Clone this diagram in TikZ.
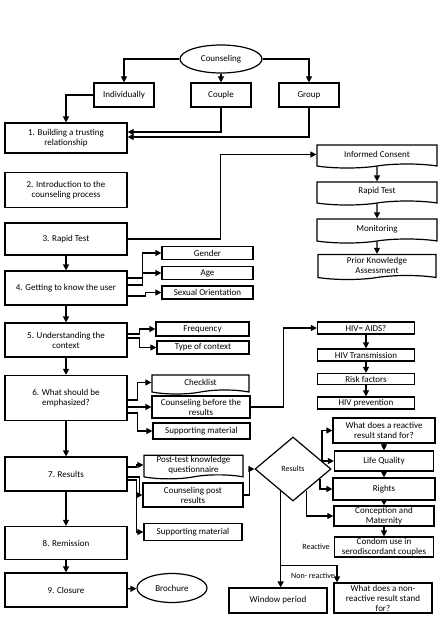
\documentclass[tikz,border=0pt]{standalone}
\usepackage{fontspec}
\setmainfont{Carlito}
\usetikzlibrary{arrows.meta, shapes.geometric, shapes.symbols, calc}

\begin{document}
\begin{tikzpicture}[x=1pt, y=-1pt,
      font=\fontsize{9}{10}\selectfont,
      box/.style={draw, line width=1.2pt, align=center, inner xsep=2pt,
                  inner ysep=1pt, minimum width=#1},
      stepbox/.style={box=122pt, minimum height=34pt},
      docbox/.style={box=#1, tape, tape bend top=none, tape bend height=4pt},
      oval/.style={draw, line width=1.2pt, ellipse, inner sep=0pt},
      lbl/.style={font=\fontsize{8}{9}\selectfont, inner sep=0pt},
      arr/.style={-{Triangle[length=6pt,width=6pt]}, line width=1.2pt}
  ]
    \useasboundingbox (0,0) rectangle (444,623);

    \node[oval, minimum width=82pt, minimum height=28pt] (couns) at (221,59) {Counseling};
    \node[box=60pt, minimum height=24pt] (indiv)  at (124,95) {Individually};
    \node[box=60pt, minimum height=24pt] (couple) at (221,95) {Couple};
    \node[box=60pt, minimum height=24pt] (group)  at (309,95) {Group};

    \node[stepbox, minimum height=30pt] (s1) at (66,138) {1. Building a trusting\\relationship};
    \node[stepbox, minimum height=35pt] (s2) at (66,190) {2. Introduction to the\\counseling process};
    \node[stepbox, minimum height=32pt] (s3) at (66,239) {3. Rapid Test};
    \node[stepbox] (s4) at (66,288) {4. Getting to know the user};
    \node[stepbox] (s5) at (66,340) {5. Understanding the\\context};
    \node[stepbox, minimum height=45pt] (s6) at (66,398) {6. What should be\\emphasized?};
    \node[stepbox] (s7) at (66,474) {7. Results};
    \node[stepbox, minimum height=33pt] (s8) at (66,543) {8. Remission};
    \node[stepbox] (s9) at (66,590) {9. Closure};

    \node[box=91pt, minimum height=13pt] (gender) at (207.5,253) {Gender};
    \node[box=91pt, minimum height=13pt] (age)    at (207.5,273) {Age};
    \node[box=91pt, minimum height=13pt] (sexor)  at (207.5,292.5) {Sexual Orientation};
    \node[box=93pt, minimum height=14pt] (freq)   at (202.5,329) {Frequency};
    \node[box=92pt, minimum height=13pt] (ctx)    at (203,347.5) {Type of context};
    \node[docbox=97pt, minimum height=19pt] (check) at (200.5,382.5) {Checklist};
    \node[box=98pt, minimum height=22pt] (cbr)    at (201,407) {Counseling before the\\results};
    \node[box=97pt, minimum height=16pt] (supa)   at (201.5,431) {Supporting material};
    \node[docbox=99pt, minimum height=22pt] (post) at (193.5,465) {Post-test knowledge\\questionnaire};
    \node[box=100pt, minimum height=24pt] (cpr)   at (193,495) {Counseling post\\results};
    \node[box=98pt, minimum height=17pt] (supb)   at (193,532) {Supporting material};
    \node[oval, minimum width=70pt, minimum height=29pt] (broch) at (172,588) {Brochure};

    \node[docbox=120pt, minimum height=23pt] (ic)  at (377,154.5) {Informed Consent};
    \node[docbox=120pt, minimum height=23pt] (rt)  at (377,191.5) {Rapid Test};
    \node[docbox=120pt, minimum height=24pt] (mon) at (377,229) {Monitoring};
    \node[docbox=118pt, minimum height=25pt] (pk)  at (377,265) {Prior Knowledge\\Assessment};

    \node[box=97pt, minimum height=12pt] (aids)  at (366,328) {HIV= AIDS?};
    \node[box=97pt, minimum height=12pt] (trans) at (366,355) {HIV Transmission};
    \node[box=97pt, minimum height=11pt] (risk)  at (366,379) {Risk factors};
    \node[box=97pt, minimum height=12pt] (prev)  at (366,403) {HIV prevention};

    \node[draw, line width=1.2pt, diamond, minimum width=76pt, minimum height=64pt,
          inner sep=0pt, font=\fontsize{8}{9}\selectfont] (res) at (293,469) {Results};
    \node[box=102pt, minimum height=25pt] (rq)    at (384,430.5) {What does a reactive\\result stand for?};
    \node[box=99pt, minimum height=20pt]  (lq)    at (384,461) {Life Quality};
    \node[box=102pt, minimum height=22pt] (rts)   at (384,489) {Rights};
    \node[box=100pt, minimum height=20pt] (conc)  at (384,516) {Conception and\\Maternity};
    \node[box=99pt, minimum height=20pt]  (cond)  at (384,547) {Condom use in\\serodiscordant couples};
    \node[box=98pt, minimum height=25pt]  (win)   at (278,600.5) {Window period};
    \node[box=98pt, minimum height=30pt]  (nrq)   at (383,598) {What does a non-\\reactive result stand\\for?};
    \node[lbl] (lreac) at (316,547) {Reactive};
    \node[lbl] (lnon)  at (313,576) {Non- reactive};

    \draw[arr] (couns.west) -| (indiv.north);
    \draw[arr] (couns) -- (couple);
    \draw[arr] (couns.east) -| (group.north);
    \draw[arr] (indiv.west) -| (s1.north);
    \draw[arr] (couple.south) |- ([yshift=6pt]s1.east);
    \draw[arr] (group.south) |- ([yshift=1pt]s1.east);

    \draw[arr] (s3.east) -- ++(93,0) |- (ic.west);
    \draw[arr] (ic) -- (rt);
    \draw[arr] (rt) -- (mon);
    \draw[arr] (mon) -- (pk);

    \draw[arr] (s3) -- (s4);
    \draw[arr] (s4) -- (s5);
    \draw[arr] (s5) -- (s6);
    \draw[arr] (s6) -- (s7);
    \draw[arr] (s7) -- (s8);
    \draw[arr] (s8) -- (s9);
    \draw[arr] (s9) -- (broch);

    \draw[arr] ([yshift=10pt]s4.east) -- ++(15,0) |- (gender.west);
    \draw[arr] ([yshift=3pt]s4.east) -- ++(15,0) |- (age.west);
    \draw[arr] ([yshift=-8pt]s4.east) -- ++(18,0) |- (sexor.west);

    \draw[arr] ([yshift=6pt]s5.east) -- ++(12,0) |- (freq.west);
    \draw[arr] ([yshift=2pt]s5.east) -- ++(12,0) |- (ctx.west);

    \draw[arr] ([yshift=-2pt]s6.east) -- ++(10,0) |- (check.west);
    \draw[arr] (s6.east |- cbr.west) -- (cbr.west);
    \draw[arr] ([yshift=-15pt]s6.east) -- ++(10,0) |- (supa.west);
    \draw[arr] (cbr.east) -- ++(33,0) |- (aids.west);
    \draw[arr] (aids) -- (trans);
    \draw[arr] (trans) -- (risk);
    \draw[arr] (risk) -- (prev);

    \draw[arr] ([yshift=7pt]s7.east) -- ++(9,0) |- (post.west);
    \draw[arr] ([yshift=-3pt]s7.east) -- ++(12,0) |- (cpr.west);
    \draw[arr] ([yshift=-6pt]s7.east) -- ++(9,0) |- (supb.west);
    \draw[arr] (cpr.east) -- ++(6,0) |- (res.west);

    \coordinate (rne) at ($(res.north east)!0.5!(res.east)$);
    \coordinate (rse) at ($(res.east)!0.3!(res.south)$);
    \coordinate (rss) at ($(res.east)!0.66!(res.south)$);
    \coordinate (rsw) at ($(res.west)!0.68!(res.south)$);
    \draw[arr] (rne) |- (rq.west);
    \draw[arr] (rne) |- (lq.west);
    \draw[arr] (rse) |- (rts.west);
    \draw[arr] (rss) |- (conc.west);
    \draw[arr] (rq) -- (lq);
    \draw[arr] (lq) -- (rts);
    \draw[arr] (rts) -- (conc);
    \draw[arr] (conc) -- (cond);
    \draw[arr] (rsw) -- (rsw |- win.north);
    \draw[arr] (rsw) ++(0,74) -| ([xshift=-46pt]nrq.north);
\end{tikzpicture}
\end{document}
